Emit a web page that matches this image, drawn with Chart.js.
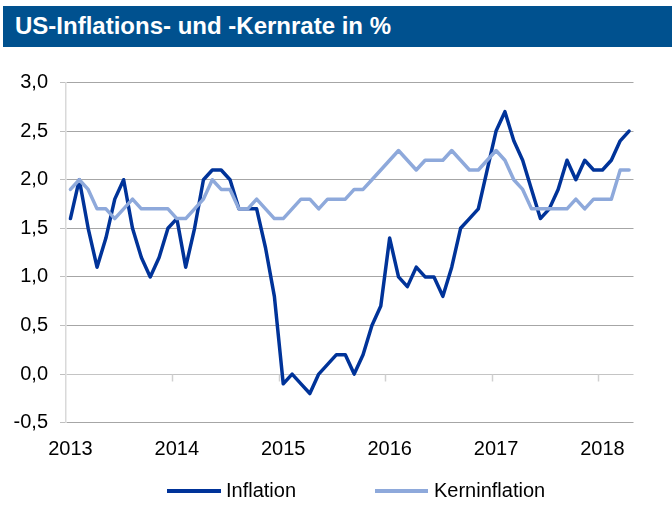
<!DOCTYPE html>
<html><head><meta charset="utf-8">
<script src="https://cdn.jsdelivr.net/npm/chart.js@4.4.0/dist/chart.umd.min.js"></script>
<style>
html,body{margin:0;padding:0;background:#fff;width:672px;height:506px;overflow:hidden;position:relative;font-family:"Liberation Sans",Arial,sans-serif}
#title{position:absolute;left:3px;top:6px;width:669px;height:41px;background:#00518F;z-index:2}
#title span{position:absolute;left:12px;top:8px;line-height:24px;color:#fff;font-weight:bold;font-size:24px;white-space:nowrap}
#cv{position:absolute;left:0;top:0}
.lg{position:absolute;height:4px;top:489px}
.lt{position:absolute;top:480px;font-size:20px;line-height:20px;color:#000;white-space:nowrap}
</style></head>
<body>
<div id="title"><span>US-Inflations- und -Kernrate in %</span></div>
<canvas id="cv" width="672" height="506"></canvas>
<div id="legend"></div>
<script>
const months = ["01/2013","02/2013","03/2013","04/2013","05/2013","06/2013","07/2013","08/2013","09/2013","10/2013","11/2013","12/2013",
"01/2014","02/2014","03/2014","04/2014","05/2014","06/2014","07/2014","08/2014","09/2014","10/2014","11/2014","12/2014",
"01/2015","02/2015","03/2015","04/2015","05/2015","06/2015","07/2015","08/2015","09/2015","10/2015","11/2015","12/2015",
"01/2016","02/2016","03/2016","04/2016","05/2016","06/2016","07/2016","08/2016","09/2016","10/2016","11/2016","12/2016",
"01/2017","02/2017","03/2017","04/2017","05/2017","06/2017","07/2017","08/2017","09/2017","10/2017","11/2017","12/2017",
"01/2018","02/2018","03/2018","04/2018"];
const inflation = [1.6,2.0,1.5,1.1,1.4,1.8,2.0,1.5,1.2,1.0,1.2,1.5,
1.6,1.1,1.5,2.0,2.1,2.1,2.0,1.7,1.7,1.7,1.3,0.8,
-0.1,0.0,-0.1,-0.2,0.0,0.1,0.2,0.2,0.0,0.2,0.5,0.7,
1.4,1.0,0.9,1.1,1.0,1.0,0.8,1.1,1.5,1.6,1.7,2.1,
2.5,2.7,2.4,2.2,1.9,1.6,1.7,1.9,2.2,2.0,2.2,2.1,
2.1,2.2,2.4,2.5];
const kerninflation = [1.9,2.0,1.9,1.7,1.7,1.6,1.7,1.8,1.7,1.7,1.7,1.7,
1.6,1.6,1.7,1.8,2.0,1.9,1.9,1.7,1.7,1.8,1.7,1.6,
1.6,1.7,1.8,1.8,1.7,1.8,1.8,1.8,1.9,1.9,2.0,2.1,
2.2,2.3,2.2,2.1,2.2,2.2,2.2,2.3,2.2,2.1,2.1,2.2,
2.3,2.2,2.0,1.9,1.7,1.7,1.7,1.7,1.7,1.8,1.7,1.8,
1.8,1.8,2.1,2.1];
const yearLabels = ["2013","2014","2015","2016","2017","2018"];
const seriesNames = ["Inflation","Kerninflation"];
const colors = ["#003399","#8EA9DB"];

const FONT = {family:"'Liberation Sans', Arial, sans-serif", size:20};

const zeroTicks = {
  id:'zeroTicks',
  beforeDatasetsDraw(chart){
    const xs=chart.scales.x, ys=chart.scales.y, ctx=chart.ctx;
    const y0=Math.round(ys.getPixelForValue(0))+0.5;
    ctx.save(); ctx.strokeStyle='#D0D0D0'; ctx.lineWidth=1.5;
    for(let i=12;i<months.length;i+=12){
      const px=Math.round((xs.getPixelForValue(i-1)+xs.getPixelForValue(i))/2)+0.5;
      ctx.beginPath(); ctx.moveTo(px,y0); ctx.lineTo(px,y0+7); ctx.stroke();
    }
    ctx.restore();
  }
};

new Chart(document.getElementById('cv'), {
  type:'line',
  data:{
    labels:months,
    datasets:[
      {label:seriesNames[0], data:inflation, borderColor:colors[0], backgroundColor:colors[0], borderWidth:3.5, pointRadius:0, tension:0, fill:false, order:1, borderJoinStyle:'round', borderCapStyle:'round'},
      {label:seriesNames[1], data:kerninflation, borderColor:colors[1], backgroundColor:colors[1], borderWidth:3.5, pointRadius:0, tension:0, fill:false, order:0, borderJoinStyle:'round', borderCapStyle:'round'}
    ]
  },
  options:{
    responsive:false, animation:false, devicePixelRatio:1,
    layout:{padding:{top:82.5,right:38.5,bottom:43.3,left:0}},
    plugins:{legend:{display:false}, title:{display:false}, tooltip:{enabled:false}},
    scales:{
      x:{
        offset:true,
        grid:{display:false, drawTicks:false},
        border:{display:false},
        ticks:{autoSkip:false, maxRotation:0, minRotation:0, padding:15, color:'#000', font:FONT,
          callback:function(v,i){ return (i%12===0) ? yearLabels[i/12] : ''; }},
        afterFit:function(s){ s.height=40; }
      },
      y:{
        min:-0.5, max:3, 
        grid:{color:function(c){return c.tick && c.tick.value===0 ? '#C4C4C4' : '#A6A6A6';}, lineWidth:1, tickLength:6, tickColor:'#BFBFBF'},
        border:{display:true, color:'#D9D9D9', width:1.5},
        ticks:{stepSize:0.5, padding:12, color:'#000', font:FONT,
          callback:function(v){ return v.toFixed(1).replace('.',','); }},
        afterFit:function(s){ s.width=66; }
      }
    }
  },
  plugins:[zeroTicks]
});

// HTML legend built from series names/colors
const lg=document.getElementById('legend');
const legPos=[{lx:167,lw:54,tx:226},{lx:375,lw:53,tx:434}];
seriesNames.forEach(function(n,i){
  const l=document.createElement('div'); l.className='lg';
  l.style.left=legPos[i].lx+'px'; l.style.width=legPos[i].lw+'px'; l.style.background=colors[i];
  lg.appendChild(l);
  const t=document.createElement('div'); t.className='lt'; t.style.left=legPos[i].tx+'px'; t.textContent=n;
  lg.appendChild(t);
});
</script>
</body></html>
